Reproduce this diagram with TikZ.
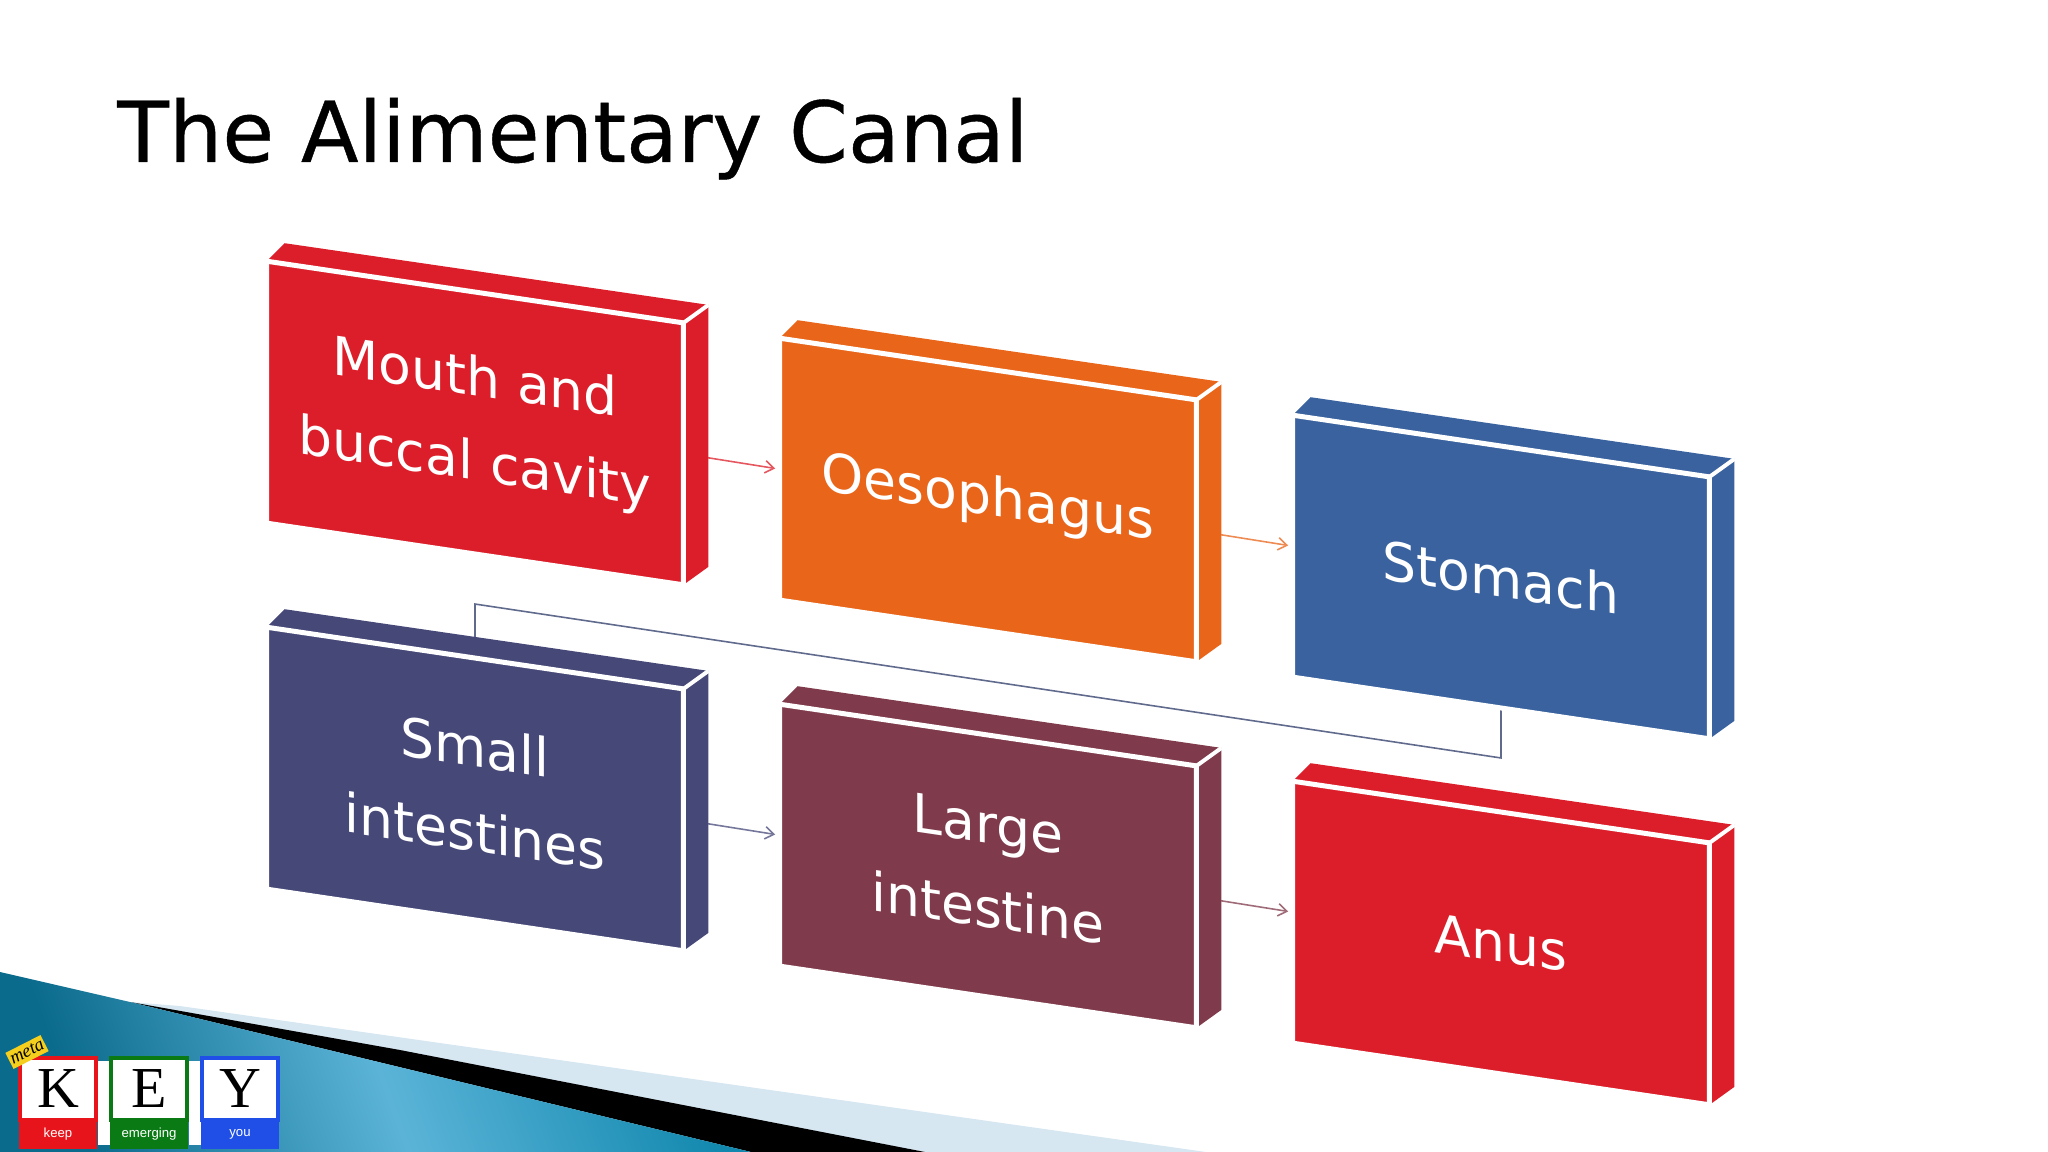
\documentclass[tikz,border=0pt]{standalone}
\usepackage{fontspec}
\setmainfont{DejaVu Sans}
\newfontfamily\titlefont[FakeBold=.5]{DejaVu Sans}
\newfontfamily\serifkey{Liberation Serif}
\newfontfamily\sanskey{Liberation Sans}
\usetikzlibrary{arrows.meta,calc,positioning}
\definecolor{boxred}{HTML}{DC1E2A}
\definecolor{boxorange}{HTML}{E9651A}
\definecolor{boxblue}{HTML}{39629F}
\definecolor{boxnavy}{HTML}{464878}
\definecolor{boxmaroon}{HTML}{7F3A4B}
\definecolor{linkgrey}{HTML}{5F6A8C}
\definecolor{paleband}{HTML}{D6E7F1}
\definecolor{tealdark}{HTML}{0B6B8C}
\definecolor{teallight}{HTML}{5BB4D8}
\definecolor{tealend}{HTML}{1288AE}
\definecolor{tilered}{HTML}{E8141C}
\definecolor{tilegreen}{HTML}{0A7A14}
\definecolor{tileblue}{HTML}{1F4FE6}
\definecolor{tagyellow}{HTML}{F5CF1E}
\pgfdeclarelayer{links}
\pgfdeclarelayer{faces}
\pgfsetlayers{links,faces,main}
\tikzset{
  frontbox/.style={draw=white,line width=5*.569pt,minimum width=417*.569pt,minimum height=262*.569pt,
    inner sep=0pt,outer sep=0pt,yslant=-.148,align=center,text=white,
    font=\fontsize{30.5}{48}\selectfont},
  link/.style={line width=.9pt,-{Straight Barb[length=5pt,width=7pt]},shorten >=2.5pt},
  tilebox/.style={fill=white,line width=2pt,minimum width=76*.569pt,minimum height=62*.569pt,
    inner sep=0pt,outer sep=0pt,font=\serifkey\fontsize{33}{33}\selectfont},
  tileband/.style={minimum width=79*.569pt,minimum height=29*.569pt,inner sep=0pt,outer sep=0pt,
    text=white,font=\sanskey\fontsize{7.5}{7.5}\selectfont}
}
\begin{document}
\begin{tikzpicture}[x=.02cm,y=-.02cm]
  \useasboundingbox (0,0) rectangle (2048,1152);
  % title
  \node[anchor=base west,inner sep=0pt,text=black,font=\titlefont\fontsize{48}{52}\selectfont] (title) at (117,162) {The Alimentary Canal};
  % footer swoosh
  \fill[paleband] (180,1006) -- (1206,1152) -- (925,1152) -- (130,1002) -- cycle;
  \fill[black] (130,1002) -- (400,1050) -- (925,1152) -- (751,1152) -- cycle;
  \shade[left color=tealdark,right color=tealend,middle color=teallight,shading angle=110]
    (0,972) -- (130,1002) -- (751,1152) -- (0,1152) -- cycle;
  % blocks
  \foreach \n/\x/\y/\c/\txt in {mouth/475/423/boxred/{Mouth and\\buccal cavity},
      oesophagus/988/500/boxorange/Oesophagus,
      stomach/1501/577/boxblue/Stomach,
      small/475/789/boxnavy/{Small\\intestines},
      large/988/866/boxmaroon/{Large\\intestine},
      anus/1501/943/boxred/Anus}{
    \node[frontbox,fill=\c] (\n) at (\x,\y) {\txt};
    \begin{pgfonlayer}{faces}
      \fill[\c] (\n.north west) -- ++(18,-18) -- ($(\n.north east)+(25,-18)$) -- (\n.north east) -- cycle;
      \fill[\c] (\n.north east) -- ++(25,-18) -- ($(\n.south east)+(25,-18)$) -- (\n.south east) -- cycle;
      \draw[white,line width=4*.569pt] (\n.north east) -- ++(25,-18);
    \end{pgfonlayer}
  }
  % connectors
  \begin{pgfonlayer}{links}
    \foreach \a/\b/\c in {mouth/oesophagus/boxred,oesophagus/stomach/boxorange,small/large/boxnavy,large/anus/boxmaroon}
      \draw[link,\c!75] (\a.east) -- (\b.west);
    \coordinate (turnlow) at ($(stomach.south)+(0,50)$);
    \coordinate (turnhigh) at ($(small.north)+(0,-54)$);
    \draw[line width=.9pt,linkgrey] (stomach.south) -- (turnlow) -- (turnhigh) -- (small.north);
  \end{pgfonlayer}
  % logo
  \fill[white] (98,1061) rectangle (110,1145);
  \fill[white] (189,1061) rectangle (201,1145);
  \foreach \n/\x/\c/\l/\w in {k/58/tilered/K/keep,e/149/tilegreen/E/emerging,y/240/tileblue/Y/you}{
    \node[tilebox,draw=\c] (\n) at (\x,1089) {\l};
    \node[tileband,fill=\c,below=0pt of \n] (\n band) {\w};
  }
  \node[fill=tagyellow,rotate=27,inner sep=1pt,minimum width=38*.569pt,minimum height=18*.569pt,
    font=\serifkey\itshape\fontsize{10.5}{10.5}\selectfont] (tag) at (27,1052) {meta};
\end{tikzpicture}
\end{document}
